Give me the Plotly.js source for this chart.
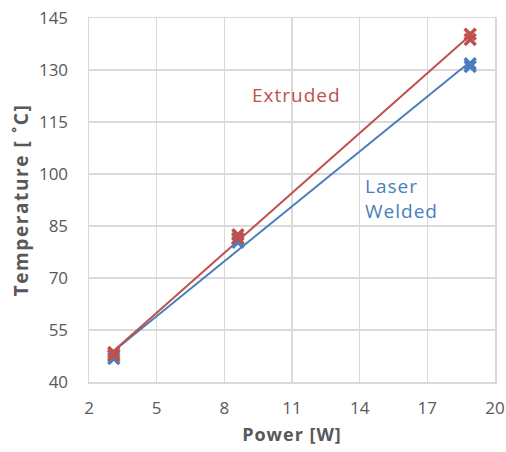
<!DOCTYPE html>
<html><head><meta charset="utf-8">
<script src="https://cdn.plot.ly/plotly-3.0.1.min.js"></script>
<style>body{margin:0}#c{width:506px;height:452px}
.g-xtitle text{letter-spacing:1px}
.g-ytitle text{letter-spacing:1.6px}
.annotation-text{letter-spacing:1px}
</style>
</head><body><div id="c"></div>
<script>
const extrudedPower = [3.1, 3.1, 8.6, 8.6, 18.9, 18.9];
const extrudedTemp = [48.5, 47.8, 82.5, 81.5, 140.3, 138.8];
const laserPower = [3.1, 3.1, 8.6, 8.6, 18.9, 18.9];
const laserTemp = [47.5, 46.8, 81.2, 80.3, 131.8, 131.0];
const xTicks = [2, 5, 8, 11, 14, 17, 20];
const yTicks = [40, 55, 70, 85, 100, 115, 130, 145];

function fit(xs, ys) {
  const n = xs.length;
  const mx = xs.reduce((a, b) => a + b, 0) / n;
  const my = ys.reduce((a, b) => a + b, 0) / n;
  let sxy = 0, sxx = 0;
  for (let i = 0; i < n; i++) { sxy += (xs[i] - mx) * (ys[i] - my); sxx += (xs[i] - mx) ** 2; }
  const m = sxy / sxx, b = my - m * mx;
  const x0 = Math.min(...xs), x1 = Math.max(...xs);
  return { x: [x0, x1], y: [m * x0 + b, m * x1 + b] };
}
const red = '#C0504D', blue = '#4A7EBB';
const fe = fit(extrudedPower, extrudedTemp), fl = fit(laserPower, laserTemp);
const data = [
  { x: fl.x, y: fl.y, mode: 'lines', line: { color: blue, width: 2 }, showlegend: false, hoverinfo: 'skip' },
  { x: fe.x, y: fe.y, mode: 'lines', line: { color: red, width: 2 }, showlegend: false, hoverinfo: 'skip' },
  { x: laserPower, y: laserTemp, mode: 'markers', name: 'Laser Welded',
    marker: { symbol: 'x-thin', size: 11, color: blue, line: { color: blue, width: 3.5 } }, showlegend: false },
  { x: extrudedPower, y: extrudedTemp, mode: 'markers', name: 'Extruded',
    marker: { symbol: 'x-thin', size: 11, color: red, line: { color: red, width: 3.5 } }, showlegend: false }
];
const fam = '"Open Sans", "Noto Sans", sans-serif';
const gray = '#595959';
const layout = {
  width: 506, height: 452,
  margin: { l: 89, r: 11, t: 18, b: 70 },
  paper_bgcolor: '#fff', plot_bgcolor: '#fff',
  font: { family: fam, color: gray },
  xaxis: {
    range: [2, 20], tickvals: xTicks, ticktext: xTicks.map(String),
    showgrid: true, gridcolor: '#D9D9D9', gridwidth: 1.5,
    showline: true, linecolor: '#D9D9D9', linewidth: 1.5, mirror: true,
    zeroline: false, ticks: '', ticklabelstandoff: 10,
    tickfont: { size: 17, family: fam, color: gray },
    title: { text: '<b>Power [W]</b>', font: { size: 18, family: fam, color: gray }, standoff: 10 }
  },
  yaxis: {
    range: [40, 145], tickvals: yTicks, ticktext: yTicks.map(String),
    showgrid: true, gridcolor: '#D9D9D9', gridwidth: 1.5,
    showline: true, linecolor: '#D9D9D9', linewidth: 1.5, mirror: true,
    zeroline: false, ticks: '', ticklabelstandoff: 16,
    tickfont: { size: 17, family: fam, color: gray },
    title: { text: '<b>Temperature [ ˚C]</b>', font: { size: 19, family: fam, color: gray }, standoff: 5 }
  },
  annotations: [
    { x: 11.2, y: 122.8, xref: 'x', yref: 'y', text: 'Extruded', showarrow: false,
      font: { size: 19, family: fam, color: red } },
    { x: 14.15, y: 93, xref: 'x', yref: 'y', text: 'Laser<br>Welded', showarrow: false, xanchor: 'left', align: 'left',
      font: { size: 19, family: fam, color: blue } }
  ]
};
Plotly.newPlot('c', data, layout, { displayModeBar: false, staticPlot: true });
</script></body></html>
